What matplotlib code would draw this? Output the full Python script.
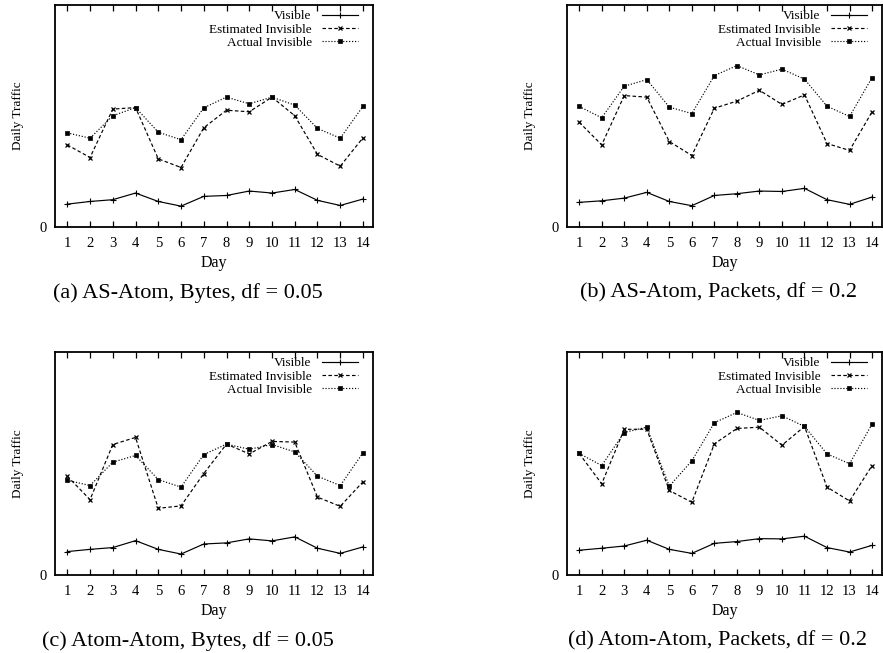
import matplotlib
matplotlib.use("Agg")
import matplotlib.pyplot as plt

plt.rcParams['font.family'] = ['Liberation Serif', 'DejaVu Serif']

days = list(range(1, 15))
day_labels = [str(d) for d in days]

series_labels = ["Visible", "Estimated Invisible", "Actual Invisible"]

# (a) AS-Atom, Bytes
a_visible = [10.3, 11.5, 12.3, 15.3, 11.5, 9.4, 13.8, 14.2, 16.2, 15.3, 16.9, 12.0, 9.7, 12.6]
a_estimated = [37.0, 31.3, 53.1, 53.8, 30.7, 26.8, 44.7, 52.6, 51.9, 58.5, 50.1, 32.7, 27.4, 40.2]
a_actual = [42.4, 40.0, 50.1, 53.8, 42.7, 39.3, 53.7, 58.5, 55.5, 58.5, 54.9, 44.4, 40.0, 54.4]

# (b) AS-Atom, Packets
b_visible = [11.1, 11.8, 13.0, 15.6, 11.5, 9.6, 14.2, 15.0, 16.2, 16.0, 17.4, 12.3, 10.2, 13.5]
b_estimated = [47.2, 37.0, 59.2, 58.5, 38.5, 32.2, 53.5, 56.7, 61.6, 55.2, 59.5, 37.6, 34.5, 51.9]
b_actual = [54.3, 49.2, 63.4, 66.4, 54.0, 51.1, 68.2, 72.7, 68.5, 71.1, 66.6, 54.4, 49.8, 67.3]

# (c) Atom-Atom, Bytes
c_visible = [10.5, 11.5, 12.3, 15.4, 11.5, 9.4, 13.9, 14.4, 16.2, 15.3, 17.1, 12.0, 9.7, 12.6]
c_estimated = [44.3, 33.8, 58.5, 61.7, 29.9, 31.0, 45.5, 58.7, 54.3, 59.9, 59.6, 34.9, 30.8, 41.8]
c_actual = [42.5, 40.1, 50.6, 53.6, 42.8, 39.4, 54.0, 58.7, 56.4, 58.5, 55.2, 44.3, 40.1, 54.8]

# (d) Atom-Atom, Packets
d_visible = [11.1, 12.0, 13.0, 15.6, 11.5, 9.7, 14.2, 15.0, 16.3, 16.2, 17.4, 12.3, 10.3, 13.3]
d_estimated = [54.5, 40.9, 65.3, 65.4, 37.9, 32.6, 58.8, 65.7, 66.3, 58.2, 66.6, 39.4, 33.2, 49.1]
d_actual = [54.5, 49.1, 63.9, 66.3, 39.8, 51.2, 68.3, 72.9, 69.3, 71.4, 66.6, 54.3, 49.9, 67.7]

captions = ["(a) AS-Atom, Bytes, df = 0.05",
            "(b) AS-Atom, Packets, df = 0.2",
            "(c) Atom-Atom, Bytes, df = 0.05",
            "(d) Atom-Atom, Packets, df = 0.2"]

W, H = 883, 653
fig = plt.figure(figsize=(W / 100, H / 100), dpi=100)


def make_axes(left, top, right, bottom):
    return fig.add_axes([left / W, (H - bottom) / H, (right - left) / W, (bottom - top) / H])


def draw(ax, vis, est, act):
    ax.plot(days, vis, color='black', lw=0.85, ls='-', marker='+', ms=4, mew=0.8,
            label=series_labels[0])
    ax.plot(days, est, color='black', lw=0.85, ls=(0, (3, 2)), marker='x', ms=3.5, mew=0.9,
            label=series_labels[1])
    ax.plot(days, act, color='black', lw=0.85, ls=(0, (1, 1.5)), marker='s', ms=2.6, mew=0.5,
            label=series_labels[2])
    ax.set_xlim(0.46, 14.44)
    ax.set_ylim(0, 100)
    ax.set_xticks(days)
    ax.set_xticklabels(day_labels)
    ax.set_yticks([0])
    ax.set_yticklabels(["0"])
    ax.tick_params(axis='x', direction='in', top=True, length=4, width=0.9,
                   labelsize=10.5, pad=7)
    ax.tick_params(axis='y', direction='in', length=0, labelsize=10.5, pad=6)
    for s in ax.spines.values():
        s.set_linewidth(1.3)
    ax.set_xlabel("Day", fontsize=11.5, labelpad=4)
    ax.set_ylabel("Daily Traffic", fontsize=9.5)
    bb = ax.get_position()
    wpx = bb.width * W
    hpx = bb.height * H
    ax.yaxis.set_label_coords(-37 / wpx, 0.5)
    ax.yaxis.label.set_verticalalignment('center')
    ax.legend(loc='upper right', bbox_to_anchor=(1 - 12.5 / wpx, 1 - 2.5 / hpx),
              frameon=False, markerfirst=False, numpoints=1, fontsize=9.5,
              handlelength=2.7, handletextpad=0.8, labelspacing=0.08,
              borderaxespad=0.0, borderpad=0.2)


ax_a = make_axes(55, 5, 373, 227)
ax_b = make_axes(567, 5, 882, 227)
ax_c = make_axes(55, 352, 373, 575)
ax_d = make_axes(567, 352, 882, 575)

draw(ax_a, a_visible, a_estimated, a_actual)
draw(ax_b, b_visible, b_estimated, b_actual)
draw(ax_c, c_visible, c_estimated, c_actual)
draw(ax_d, d_visible, d_estimated, d_actual)

cap_pos = [(188, 293), (718, 293), (188, 641), (718, 641)]
for (x, y), cap in zip(cap_pos, captions):
    fig.text(x / W, (H - y) / H, cap, ha='center', va='center', fontsize=16)

fig.savefig("out.png", dpi=100)
